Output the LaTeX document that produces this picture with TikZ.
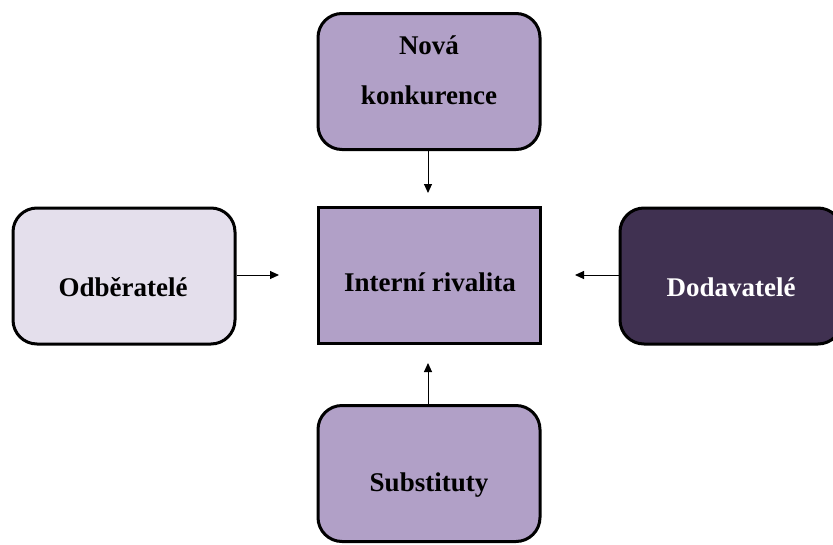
\documentclass[tikz,border=0pt]{standalone}
\usepackage{fontspec}
\setmainfont{Liberation Serif}
\usetikzlibrary{arrows.meta}
\definecolor{fialova}{HTML}{B1A0C7}
\definecolor{svetla}{HTML}{E4DFEC}
\definecolor{tmava}{HTML}{403151}
\tikzset{
    skatule/.style={draw=black, line width=3pt, rounded corners=24pt, minimum width=222pt, minimum height=136pt},
    popis/.style={font=\bfseries\fontsize{27}{50}\selectfont, align=center},
    sipka/.style={line width=1pt, -{Triangle[length=9pt,width=8pt]}}
}
\begin{document}
\begin{tikzpicture}[x=1pt, y=-1pt]
    \useasboundingbox (0,0) rectangle (833,544);
    \clip (0,0) rectangle (833,544);
    % Box
    \node[skatule, fill=fialova] (nova) at (429,81.5) {};
    \node[skatule, fill=fialova, rounded corners=0pt] (rival) at (429,275) {};
    \node[skatule, fill=svetla] (odber) at (124,276) {};
    \node[skatule, fill=tmava] (dodav) at (731,276) {};
    \node[skatule, fill=fialova] (subst) at (429,473.5) {};
    % Testi
    \node[popis] (novat) at (429,70) {Nová\\konkurence};
    \node[popis] (rivalt) at (430,282) {Interní rivalita};
    \node[popis] (odbert) at (123,287) {Odběratelé};
    \node[popis, text=white] (dodavt) at (731,287) {Dodavatelé};
    \node[popis] (substt) at (429,485) {Substituty};
    % Frecce
    \coordinate (nova-k) at (428,193);
    \coordinate (subst-k) at (428,363);
    \coordinate (odber-k) at (279,275);
    \coordinate (dodav-k) at (575,275);
    \draw[sipka] (nova.south -| nova-k) -- (nova-k);
    \draw[sipka] (subst.north -| subst-k) -- (subst-k);
    \draw[sipka] (odber.east |- odber-k) -- (odber-k);
    \draw[sipka] (dodav.west |- dodav-k) -- (dodav-k);
\end{tikzpicture}
\end{document}
